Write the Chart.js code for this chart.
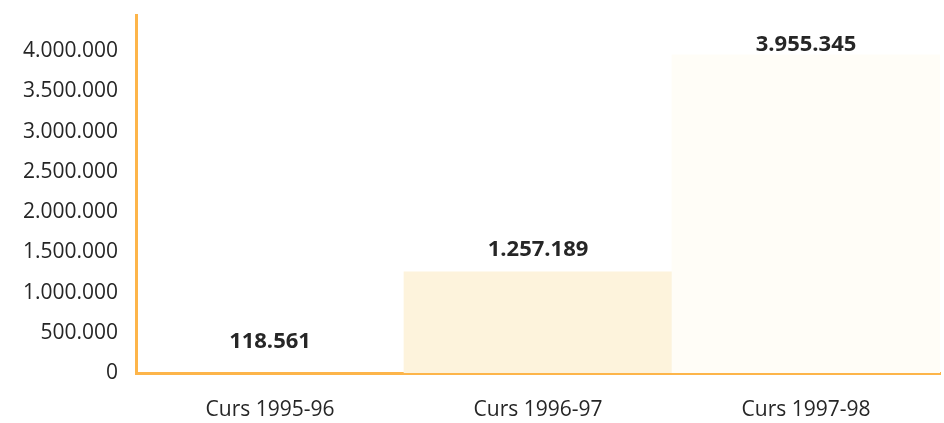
<!DOCTYPE html>
<html>
<head>
<meta charset="utf-8">
<script src="https://cdn.jsdelivr.net/npm/chart.js@4"></script>
<style>
  html, body { margin: 0; padding: 0; background: #fff; }
  #wrap { width: 944px; height: 423px; position: relative; }
</style>
</head>
<body>
<div id="wrap"><canvas id="grafic"></canvas></div>
<script>
// dades per curs acadèmic
const cursos = ['Curs 1995-96', 'Curs 1996-97', 'Curs 1997-98'];
const valors = [118561, 1257189, 3955345];
const colorsBarres = ['rgba(255,255,255,0)', '#fdf3dc', '#fffdf7'];
const marquesEix = [0, 500000, 1000000, 1500000, 2000000, 2500000, 3000000, 3500000, 4000000];

const taronja = '#fdb54a';
const font = '"Open Sans", "DejaVu Sans", sans-serif';

function formatNum(v) {
    return v.toString().replace(/\B(?=(\d{3})+(?!\d))/g, '.');
}

// etiquetes de valor damunt de cada barra
const etiquetesValor = {
    id: 'etiquetesValor',
    afterDatasetsDraw(chart) {
        const ctx = chart.ctx;
        const meta = chart.getDatasetMeta(0);
        ctx.save();
        ctx.font = 'bold 22px ' + font;
        ctx.fillStyle = '#262626';
        ctx.textAlign = 'center';
        ctx.textBaseline = 'middle';
        meta.data.forEach(function(bar, i) {
            let y = Math.max(bar.y - 22, 45);
            ctx.fillText(formatNum(valors[i]), bar.x, y);
        });
        ctx.restore();
    }
};

const ctx = document.getElementById('grafic').getContext('2d');
new Chart(ctx, {
    type: 'bar',
    data: {
        labels: cursos,
        datasets: [{
            data: valors,
            backgroundColor: colorsBarres,
            borderWidth: 0,
            barPercentage: 1,
            categoryPercentage: 1
        }]
    },
    options: {
        responsive: true,
        maintainAspectRatio: false,
        animation: false,
        layout: { padding: { top: 15, right: 4, left: 0, bottom: 0 } },
        plugins: {
            legend: { display: false },
            tooltip: { enabled: false }
        },
        scales: {
            y: {
                min: 0,
                max: 4450000,
                afterBuildTicks: function(scale) {
                    scale.ticks = marquesEix.map(v => ({ value: v }));
                },
                afterFit: function(scale) {
                    scale.width = 136;
                    scale.paddingTop = 0;
                    scale.paddingBottom = 0;
                },
                grid: { display: false, drawTicks: false },
                border: { display: true, color: taronja, width: 3 },
                ticks: {
                    padding: 18,
                    color: '#262626',
                    font: { family: font, size: 21 },
                    callback: function(v) { return formatNum(v); }
                }
            },
            x: {
                afterFit: function(scale) {
                    scale.height = 50;
                    scale.paddingLeft = 0;
                    scale.paddingRight = 0;
                },
                grid: { display: false, drawTicks: false },
                border: { display: true, color: taronja, width: 3 },
                ticks: {
                    padding: 24,
                    color: '#262626',
                    font: { family: font, size: 21 }
                }
            }
        }
    },
    plugins: [etiquetesValor]
});
</script>
</body>
</html>
